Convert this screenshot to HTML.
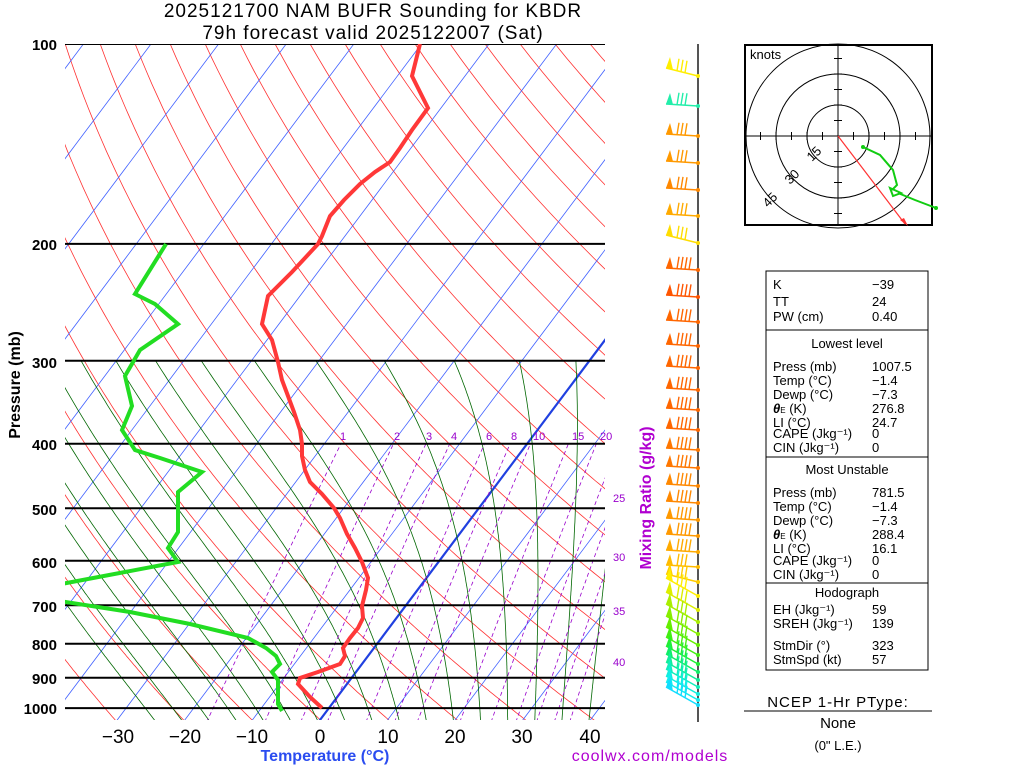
<!DOCTYPE html>
<html><head><meta charset="utf-8"><style>
html,body{margin:0;padding:0;background:#fff;width:1024px;height:768px;overflow:hidden}
svg{display:block;font-family:"Liberation Sans",sans-serif}
</style></head><body>
<svg id="s" width="1024" height="768" viewBox="0 0 1024 768" xmlns="http://www.w3.org/2000/svg">
<defs><clipPath id="c"><rect x="65" y="44" width="540" height="676"/></clipPath></defs>
<g id="bg" clip-path="url(#c)"></g>
<g id="fg"></g>
<text x="373" y="17" font-size="19" text-anchor="middle" letter-spacing="1">2025121700 NAM BUFR Sounding for KBDR</text>
<text x="373" y="39" font-size="19" text-anchor="middle" letter-spacing="1">79h forecast valid 2025122007 (Sat)</text>
<g font-size="15" text-anchor="end" font-weight="bold">
<text x="57" y="50">100</text><text x="57" y="250">200</text><text x="57" y="368">300</text><text x="57" y="450">400</text><text x="57" y="515">500</text><text x="57" y="568">600</text><text x="57" y="612">700</text><text x="57" y="650">800</text><text x="57" y="684">900</text><text x="57" y="714">1000</text>
</g>
<text transform="translate(20,385) rotate(-90)" font-size="16" font-weight="bold" text-anchor="middle">Pressure (mb)</text>
<g font-size="19" text-anchor="middle">
<text x="118" y="743">−30</text><text x="185" y="743">−20</text><text x="252" y="743">−10</text><text x="320" y="743">0</text><text x="388" y="743">10</text><text x="455" y="743">20</text><text x="522" y="743">30</text><text x="590" y="743">40</text>
</g>
<text x="325" y="761" font-size="16" font-weight="bold" fill="#2a4cf0" text-anchor="middle">Temperature (°C)</text>
<text x="650" y="761" font-size="16" fill="#b000d0" text-anchor="middle" letter-spacing="1">coolwx.com/models</text>
<text transform="translate(651,498) rotate(-90)" font-size="16" font-weight="bold" fill="#b000d0" text-anchor="middle">Mixing Ratio (g/kg)</text>
<g font-size="11" fill="#9900cc">
<text x="340" y="440">1</text><text x="394" y="440">2</text><text x="426" y="440">3</text><text x="451" y="440">4</text><text x="486" y="440">6</text><text x="511" y="440">8</text><text x="533" y="440">10</text><text x="572" y="440">15</text><text x="600" y="440">20</text>
<text x="613" y="502">25</text><text x="613" y="561">30</text><text x="613" y="615">35</text><text x="613" y="666">40</text>
</g>
<line x1="698" y1="44" x2="698" y2="722" stroke="#555" stroke-width="2"/>
<g id="barbs"></g>
<g fill="none" stroke="#000">
<rect x="745" y="45" width="187" height="180" stroke-width="2"/>
<circle cx="838" cy="136" r="31"/><circle cx="838" cy="136" r="62"/><circle cx="838" cy="136" r="92"/>
<line x1="745" y1="136" x2="932" y2="136"/><line x1="838" y1="45" x2="838" y2="225"/>
</g>
<g id="hticks" stroke="#000"></g>
<text x="750" y="59" font-size="13">knots</text>
<text transform="translate(812,162) rotate(-45)" font-size="13">15</text>
<text transform="translate(790,185) rotate(-45)" font-size="13">30</text>
<text transform="translate(768,208) rotate(-45)" font-size="13">45</text>
<line x1="838" y1="136" x2="905" y2="224" stroke="#f33" stroke-width="1.2"/>
<polygon points="900,220 908,226 904,218" fill="#f33"/>
<polyline points="863,147 880,155 893,170 897,185 892,190" fill="none" stroke="#11cc11" stroke-width="2"/>
<polygon points="890,188 901,193 893,196" fill="none" stroke="#11cc11" stroke-width="2"/>
<polyline points="898,193 915,200 936,208" fill="none" stroke="#11cc11" stroke-width="2"/>
<circle cx="863" cy="147" r="2" fill="#11cc11"/><circle cx="936" cy="208" r="2" fill="#11cc11"/>
<g fill="none" stroke="#000">
<rect x="766" y="271" width="162" height="399"/>
<line x1="766" y1="330" x2="928" y2="330"/><line x1="766" y1="457" x2="928" y2="457"/><line x1="766" y1="583" x2="928" y2="583"/>
</g>
<g font-size="13">
<text x="773" y="289">K</text><text x="872" y="289">−39</text>
<text x="773" y="306">TT</text><text x="872" y="306">24</text>
<text x="773" y="321">PW (cm)</text><text x="872" y="321">0.40</text>
<text x="847" y="348" text-anchor="middle">Lowest level</text>
<text x="773" y="371">Press (mb)</text><text x="872" y="371">1007.5</text>
<text x="773" y="385">Temp (°C)</text><text x="872" y="385">−1.4</text>
<text x="773" y="399">Dewp (°C)</text><text x="872" y="399">−7.3</text>
<text x="773" y="413"><tspan font-weight="bold" font-style="italic">θ</tspan><tspan font-size="8">E</tspan> (K)</text><text x="872" y="413">276.8</text>
<text x="773" y="427">LI (°C)</text><text x="872" y="427">24.7</text>
<text x="773" y="438">CAPE (Jkg⁻¹)</text><text x="872" y="438">0</text>
<text x="773" y="452">CIN (Jkg⁻¹)</text><text x="872" y="452">0</text>
<text x="847" y="474" text-anchor="middle">Most Unstable</text>
<text x="773" y="497">Press (mb)</text><text x="872" y="497">781.5</text>
<text x="773" y="511">Temp (°C)</text><text x="872" y="511">−1.4</text>
<text x="773" y="525">Dewp (°C)</text><text x="872" y="525">−7.3</text>
<text x="773" y="539"><tspan font-weight="bold" font-style="italic">θ</tspan><tspan font-size="8">E</tspan> (K)</text><text x="872" y="539">288.4</text>
<text x="773" y="553">LI (°C)</text><text x="872" y="553">16.1</text>
<text x="773" y="565">CAPE (Jkg⁻¹)</text><text x="872" y="565">0</text>
<text x="773" y="579">CIN (Jkg⁻¹)</text><text x="872" y="579">0</text>
<text x="847" y="597" text-anchor="middle">Hodograph</text>
<text x="773" y="614">EH (Jkg⁻¹)</text><text x="872" y="614">59</text>
<text x="773" y="628">SREH (Jkg⁻¹)</text><text x="872" y="628">139</text>
<text x="773" y="650">StmDir (°)</text><text x="872" y="650">323</text>
<text x="773" y="664">StmSpd (kt)</text><text x="872" y="664">57</text>
</g>
<text x="838" y="707" font-size="15" text-anchor="middle" letter-spacing="1">NCEP 1-Hr PType:</text>
<line x1="744" y1="711" x2="932" y2="711" stroke="#000"/>
<text x="838" y="728" font-size="15" text-anchor="middle">None</text>
<text x="838" y="750" font-size="13" text-anchor="middle">(0" L.E.)</text>
</svg>
<script>
var NS="http://www.w3.org/2000/svg";
function Y(p){return 44+288.4*Math.log(p/100);}
function X(T,p){return 320+6.76*T+(720-Y(p))*0.75;}
function add(g,tag,at){var e=document.createElementNS(NS,tag);for(var k in at)e.setAttribute(k,at[k]);document.getElementById(g).appendChild(e);return e;}
function pl(g,pts,st,w,dash){var a=add(g,"polyline",{points:pts.map(function(q){return q[0].toFixed(1)+","+q[1].toFixed(1)}).join(" "),fill:"none",stroke:st,"stroke-width":w});if(dash)a.setAttribute("stroke-dasharray",dash);}
var ps=[];for(var p=1050;p>=95;p-=5)ps.push(p);
for(var th=200;th<=500;th+=10){pl("bg",ps.map(function(p){return [X(th*Math.pow(p/1000,0.286)-273.15,p),Y(p)]}),"#ff3030",0.8);}
for(var T=-160;T<=50;T+=10){pl("bg",[[X(T,1050),Y(1050)],[X(T,95),Y(95)]],T==0?"#2040e0":"#4060ff",T==0?2.2:0.8);}
function es(T){return 6.112*Math.exp(17.67*T/(T+243.5));}
for(var T0=-24;T0<=40;T0+=4){var T=T0,pts=[];for(var p=1050;p>=300;p-=5){pts.push([X(T,p),Y(p)]);var Tk=T+273.15,e=es(T),rs=0.622*e/(p-e);var d=(287*Tk+2.5e6*rs)/(1004+2.5e6*2.5e6*rs*0.622/(287*Tk*Tk))/p;T-=d*5;}
pl("bg",pts,"#006600",0.8);}
[1,2,3,4,6,8,10,15,20,25,30,35,40].forEach(function(w){var pts=[];for(var p=1050;p>=400;p-=10){var e=w*p/(622+w),l=Math.log(e/6.112),T=243.5*l/(17.67-l);pts.push([X(T,p),Y(p)]);}pl("bg",pts,"#9900cc",0.8,"4,3");});
[100,200,300,400,500,600,700,800,900,1000].forEach(function(p){pl("bg",[[65,Y(p)],[605,Y(p)]],"#000",2);});
var tp=[[322,708],[310,697],[298,684],[300,678],[318,672],[340,664],[345,656],[343,648],[350,638],[358,628],[363,618],[362,606],[366,590],[368,578],[362,562],[355,548],[347,534],[340,518],[334,508],[322,494],[310,482],[305,470],[302,456],[302,444],[300,430],[294,412],[288,396],[282,380],[278,362],[272,340],[262,324],[268,296],[292,272],[318,244],[322,236],[330,216],[344,200],[360,184],[375,172],[390,162],[400,148],[412,130],[428,108],[412,76],[420,44]];
pl("bg",tp,"#ff3838",4);
var dp1=[[282,711],[278,704],[278,690],[278,680],[272,672],[280,664],[276,656],[266,648],[248,638],[190,624],[130,612],[40,598]];
var dp2=[[40,588],[178,562],[168,548],[178,532],[178,508],[178,492],[202,472],[160,458],[135,450],[122,430],[132,406],[125,376],[140,350],[178,324],[155,304],[135,294],[166,244]];
pl("bg",dp1,"#22dd22",4);pl("bg",dp2,"#22dd22",4);
for(var i=-5;i<=5;i++){if(!i)continue;var x=838+i*15.5,y=136+i*15.5;add("hticks","line",{x1:x,y1:132,x2:x,y2:140});add("hticks","line",{x1:834,y1:y,x2:842,y2:y});}
var bl=[[76,"#ffee00",1],[106,"#22eeaa",0],[136,"#ff9900",0],[163,"#ff9900",0],[190,"#ff8800",0],[216,"#ffaa00",0],[243,"#ffdd00",1],[270,"#ff6600",0],[297,"#ff5500",0],[322,"#ff6600",0],[346,"#ff6600",0],[368,"#ff6600",0],[390,"#ff6600",0],[410,"#ff6600",0],[430,"#ff6600",0],[450,"#ff7700",0],[468,"#ff7700",0],[486,"#ff8800",0],[503,"#ff8800",0],[520,"#ff9900",0],[536,"#ff9900",0],[552,"#ffaa00",0],[567,"#ffbb00",0],[582,"#ffcc00",1],[596,"#ffee00",1],[610,"#ddee00",1],[622,"#aaee00",1],[634,"#88ee00",1],[645,"#66ee00",1],[655,"#44ee11",1],[664,"#22ee33",1],[672,"#11ee66",1],[680,"#11ee99",1],[687,"#11eebb",1],[694,"#11eedd",1],[700,"#11eeee",1],[705,"#11ddff",1]];
bl.forEach(function(b){var y=b[0],c=b[1],t=b[2];var dy=t?-(y>590?18:8):-2;var x0=666,y0=y+dy;
pl("barbs",[[698,y],[x0,y0]],c,1.5);
add("barbs","polygon",{points:x0+","+y0+" "+(x0+4)+","+(y0-11)+" "+(x0+7)+","+(y0-dy*7/32),fill:c});
var nb=(y>260&&y<560)?4:3;
for(var k=1;k<=nb;k++){var xx=x0+7+k*4,yy=y0-dy*(xx-x0)/32;pl("barbs",[[xx,yy],[xx+2,yy-12]],c,1.4);}
add("barbs","circle",{cx:698,cy:y,r:2,fill:c});});
</script>
</body></html>
